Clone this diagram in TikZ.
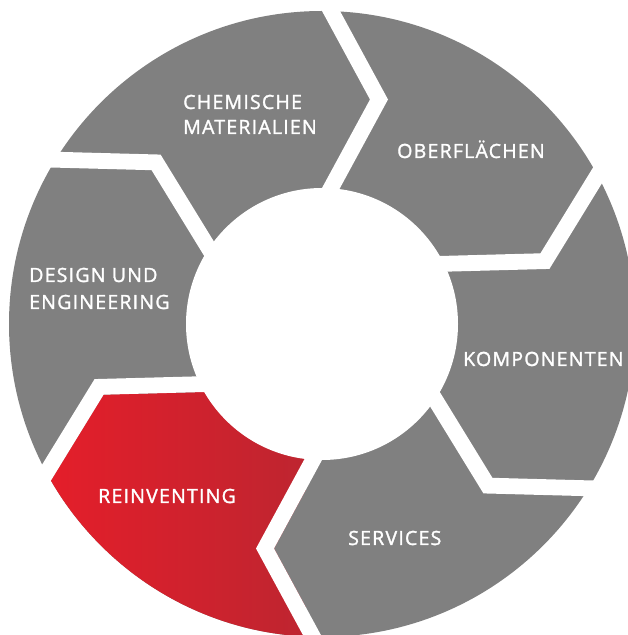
\documentclass[tikz,border=0pt]{standalone}
\usepackage{fontspec}
\setmainfont{Open Sans}
\newfontfamily\segfont{Open Sans}[FakeBold=1.5,LetterSpace=6]
\usetikzlibrary{calc}
\definecolor{segGray}{RGB}{128,128,128}
\definecolor{redL}{RGB}{228,30,42}
\definecolor{redR}{RGB}{190,37,48}
\tikzset{seglabel/.style={text=white, font=\segfont\fontsize{19.6}{26}\selectfont, anchor=base west, inner sep=0pt}}
\begin{document}
\begin{tikzpicture}[x=1pt,y=1pt]
\useasboundingbox (0,0) rectangle (628,635);
\clip (0,0) rectangle (628,635);
\coordinate (C) at (322,311);
\def\Ro{313}\def\Ri{136}\def\Rm{224.5}\def\tipd{48}\def\gapw{18}
\foreach \a/\n in {90/a,30/b,-30/c,-90/d,-150/e,150/f}{
  \coordinate (T\n) at ($(C)+(\a:\Rm)+(\a-90:\tipd)$);
  \coordinate (O\n) at ($(C)+(\a:\Ro)$);
  \coordinate (I\n) at ($(C)+(\a:\Ri)$);
  \coordinate (Oe\n) at ($(T\n)!1.4!(O\n)$);
  \coordinate (Ie\n) at ($(T\n)!1.3!(I\n)$);
}
% gray ring
\fill[segGray] (C) circle[radius=\Ro];
% red segment
\begin{scope}
  \clip (C) circle[radius=\Ro];
  \clip (C) -- (Id) -- (Td) -- (Oed) -- ($(C)+(-120:450)$) -- (Oee) -- (Te) -- (Ie) -- cycle;
  \shade[left color=redL, right color=redR] (50,0) rectangle (306,320);
\end{scope}
% white gaps
\foreach \a/\n in {90/a,30/b,-30/c,-90/d,-150/e,150/f}{
  \fill[white] (Oe\n) -- (T\n) -- (Ie\n) -- ($(Ie\n)+(\a-90:\gapw)$) -- ($(T\n)+(\a-90:\gapw)$) -- ($(Oe\n)+(\a-90:\gapw)$) -- cycle;
}
% inner circle
\fill[white] (C) circle[radius=\Ri];
% labels
\node[seglabel] (chem) at (183,526) {CHEMISCHE};
\node[seglabel] (mat) at (183,501) {MATERIALIEN};
\node[seglabel] (ober) at (397,477) {OBERFLÄCHEN};
\node[seglabel] (design) at (29,353) {DESIGN UND};
\node[seglabel] (eng) at (29,326) {ENGINEERING};
\node[seglabel] (komp) at (463,269) {KOMPONENTEN};
\node[seglabel] (rein) at (98,132) {REINVENTING};
\node[seglabel] (serv) at (348,90) {SERVICES};
\end{tikzpicture}
\end{document}
